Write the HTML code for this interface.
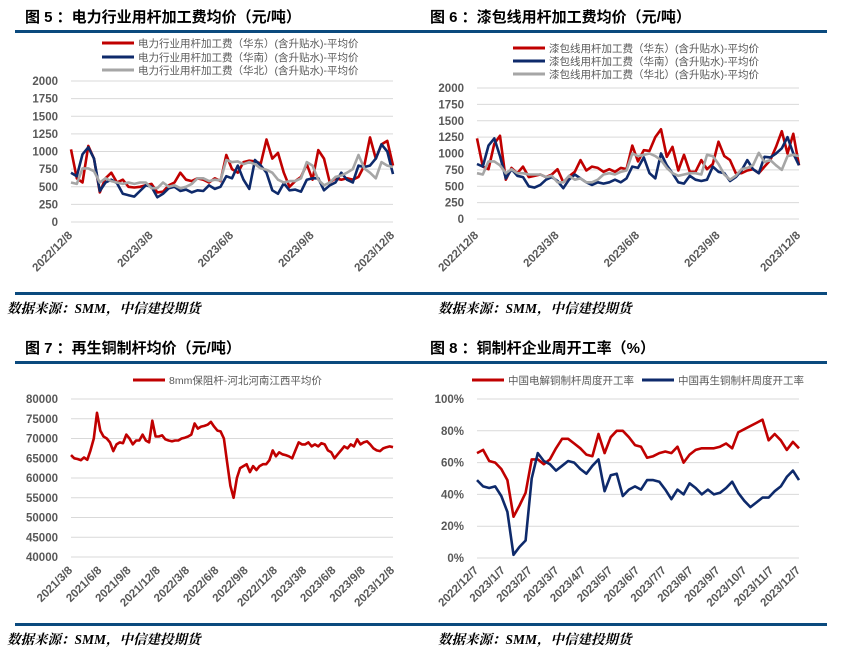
<!DOCTYPE html>
<html><head><meta charset="utf-8"><style>
body{margin:0;background:#fff;width:845px;height:656px;overflow:hidden}
svg{display:block;font-family:"Liberation Sans","Noto Sans CJK SC",sans-serif}
.t{font-size:15px;font-weight:bold;fill:#000}
.ax{font-size:11.5px;fill:#595959;font-weight:bold}
.lg{font-size:10.5px;fill:#595959}
.src{font-size:13.5px;font-weight:bold;font-style:italic;fill:#000;font-family:"Liberation Serif","Noto Serif CJK SC",serif}
</style></head><body>
<svg id="s" width="845" height="656">
<g>
<text class="t" x="25" y="22">图 5 ：电力行业用杆加工费均价（元/吨）</text>
<rect x="15" y="30" width="405" height="3" fill="#0b4a7e"/>
<rect x="15" y="292" width="405" height="3" fill="#0b4a7e"/>
<text class="src" x="7" y="313">数据来源：SMM，中信建投期货</text>
</g>
<g>
<text class="t" x="430" y="22">图 6 ：漆包线用杆加工费均价（元/吨）</text>
<rect x="420" y="30" width="407" height="3" fill="#0b4a7e"/>
<rect x="420" y="292" width="407" height="3" fill="#0b4a7e"/>
<text class="src" x="438" y="313">数据来源：SMM，中信建投期货</text>
</g>
<g>
<text class="t" x="25" y="353">图 7 ：再生铜制杆均价（元/吨）</text>
<rect x="15" y="361" width="405" height="3" fill="#0b4a7e"/>
<rect x="15" y="623" width="405" height="3" fill="#0b4a7e"/>
<text class="src" x="7" y="644">数据来源：SMM，中信建投期货</text>
</g>
<g>
<text class="t" x="430" y="353">图 8 ：铜制杆企业周开工率（%）</text>
<rect x="420" y="361" width="407" height="3" fill="#0b4a7e"/>
<rect x="420" y="623" width="407" height="3" fill="#0b4a7e"/>
<text class="src" x="438" y="644">数据来源：SMM，中信建投期货</text>
</g>
</svg>
<script>
const p1Labels=["2022/12/8","2023/3/8","2023/6/8","2023/9/8","2023/12/8"];
const p1Ticks=[0,250,500,750,1000,1250,1500,1750,2000];
const p1East=[1030,620,560,1080,900,420,620,700,560,600,500,490,500,520,540,420,430,520,560,700,600,580,620,600,560,620,580,950,750,700,850,870,860,830,1170,900,980,700,500,580,640,820,600,1020,900,560,620,600,620,600,640,800,1200,900,1100,1150,800];
const p1South=[700,650,960,1060,900,440,560,600,550,400,380,360,440,520,500,350,400,480,500,440,460,420,450,440,520,470,500,650,620,800,600,470,880,800,700,450,400,550,450,460,430,600,620,620,450,520,560,700,600,560,800,780,800,900,1100,1000,680];
const p1North=[560,540,760,760,720,560,620,580,560,540,560,540,560,560,480,480,560,500,520,480,500,540,620,620,580,600,590,880,850,860,820,850,820,760,740,700,600,560,580,580,620,850,800,600,520,560,640,660,700,750,950,760,700,620,850,800,780];
const p2East=[1230,800,760,1150,1270,600,780,700,800,640,660,680,640,680,760,560,650,720,900,740,800,780,720,760,720,780,760,1120,880,1050,1040,1250,1370,950,1100,740,980,720,720,900,760,840,1180,960,900,700,700,740,760,700,800,900,1100,1340,1000,1300,820];
const p2South=[840,800,1120,1230,960,620,760,660,640,500,480,520,600,640,580,470,600,680,620,560,520,560,540,560,600,560,620,800,780,940,700,620,1000,820,700,560,540,660,600,580,600,800,720,700,580,640,740,900,760,700,950,940,1000,1080,1250,1000,820];
const p2North=[700,680,880,880,820,700,760,700,700,680,680,680,640,660,560,560,660,600,620,560,560,600,680,700,680,720,740,1000,960,980,1000,960,900,780,700,660,680,700,700,680,980,960,840,680,600,660,760,780,820,1010,870,900,820,750,960,980,960];
const p3Labels=["2021/3/8","2021/6/8","2021/9/8","2021/12/8","2022/3/8","2022/6/8","2022/9/8","2022/12/8","2023/3/8","2023/6/8","2023/9/8","2023/12/8"];
const p3Ticks=[40000,45000,50000,55000,60000,65000,70000,75000,80000];
const p3Price=[65800,65000,64800,64500,65200,64600,67000,70000,76500,72000,70500,70000,69000,66800,68500,69000,68800,71000,70000,68500,69500,69500,71000,69500,69000,74500,70500,70500,70800,69800,69500,69300,69500,69500,70000,70200,70500,71000,73800,72500,73000,73200,73500,74200,73000,72000,71800,70000,64000,58000,55000,60000,62500,63000,63500,61500,63000,62000,63000,63500,63500,64500,67000,65500,66500,66000,65800,65500,65000,67000,69000,68500,68500,69000,68000,68500,68000,68800,68500,67000,66500,65000,66000,67000,68000,67500,68500,68000,69800,68500,69000,69300,68500,67500,67000,66800,67500,67800,68000,67800];
const p4Labels=["2022/12/7","2023/1/7","2023/2/7","2023/3/7","2023/4/7","2023/5/7","2023/6/7","2023/7/7","2023/8/7","2023/9/7","2023/10/7","2023/11/7","2023/12/7"];
const p4Ticks=[0,20,40,60,80,100];
const p4Electro=[66,68,61,60,56,49,26,33,41,62,62,59,62,69,75,75,72,69,65,64,78,66,76,80,80,76,71,70,63,64,66,67,66,70,60,65,68,69,69,69,70,72,69,79,81,83,85,87,74,78,74,68,73,69];
const p4Recycled=[49,45,44,45,39,29,2,7,11,50,66,61,59,55,58,61,60,56,53,58,62,42,52,53,39,43,45,43,49,49,48,43,37,43,40,47,44,40,43,40,41,44,48,41,36,32,35,38,38,42,45,51,55,49];

const NS="http://www.w3.org/2000/svg";
const svg=document.getElementById('s');
function mk(tag,attrs,parent){const e=document.createElementNS(NS,tag);for(const k in attrs)e.setAttribute(k,attrs[k]);(parent||svg).appendChild(e);return e;}
const RED="#c00000",NAVY="#0e2a6b",GRAY="#a6a6a6";

function panel(cfg){
  const g=mk('g',{});
  
  
  const x0=cfg.x0,x1=cfg.x1,yTop=cfg.yTop,yBot=cfg.yBot;
  const tmin=cfg.ticks[0],tmax=cfg.ticks[cfg.ticks.length-1];
  const yS=v=>yBot-(v-tmin)/(tmax-tmin)*(yBot-yTop);
  cfg.ticks.forEach(t=>{
    const l=mk('line',{x1:x0,x2:x1,y1:yS(t),y2:yS(t),stroke:"#d9d9d9","stroke-width":1},g);
    
    
    const tx=mk('text',{x:x0-13,y:yS(t)+4,"text-anchor":"end",class:"ax"},g);
    tx.textContent=t+(cfg.pct?"%":"");
    
    
  });
  const nL=cfg.labels.length;
  cfg.labels.forEach((lb,i)=>{
    const lx=x0+i*(x1-x0)/(nL-1)+2;
    const tx=mk('text',{x:lx,y:cfg.ly,"text-anchor":"end",class:"ax",transform:`rotate(-45 ${lx} ${cfg.ly})`},g);
    tx.textContent=lb;
    
    
  });
  cfg.series.forEach(s=>{
    const n=s.data.length;
    const pts=s.data.map((v,i)=>(x0+i*(x1-x0)/(n-1)).toFixed(1)+","+yS(v).toFixed(1)).join(" ");
    const pl=mk('polyline',{points:pts,fill:"none",stroke:s.color,"stroke-width":2.6,"stroke-linejoin":"round"},g);
    
    
  });
  cfg.legend.forEach(L=>{
    const sw=mk('line',{x1:L.x,x2:L.x+32,y1:L.y,y2:L.y,stroke:L.color,"stroke-width":3},g);
    
    
    const tx=mk('text',{x:L.x+36,y:L.y+4,class:"lg"},g);
    tx.textContent=L.text;
    
    
  });
}
panel({name:'chart-5',x0:71,x1:393,yTop:81,yBot:222,ticks:p1Ticks,labels:p1Labels,ly:236,
 series:[{id:'line-east',data:p1East,color:RED},{id:'line-south',data:p1South,color:NAVY},{id:'line-north',data:p1North,color:GRAY}],
 legend:[{x:102,y:43,color:RED,text:"电力行业用杆加工费（华东）(含升贴水)-平均价"},{x:102,y:57,color:NAVY,text:"电力行业用杆加工费（华南）(含升贴水)-平均价"},{x:102,y:70,color:GRAY,text:"电力行业用杆加工费（华北）(含升贴水)-平均价"}]});
panel({name:'chart-6',x0:477,x1:799,yTop:88,yBot:219,ticks:p1Ticks,labels:p1Labels,ly:236,
 series:[{id:'line-east',data:p2East,color:RED},{id:'line-south',data:p2South,color:NAVY},{id:'line-north',data:p2North,color:GRAY}],
 legend:[{x:513,y:48,color:RED,text:"漆包线用杆加工费（华东）(含升贴水)-平均价"},{x:513,y:61,color:NAVY,text:"漆包线用杆加工费（华南）(含升贴水)-平均价"},{x:513,y:74,color:GRAY,text:"漆包线用杆加工费（华北）(含升贴水)-平均价"}]});
panel({name:'chart-7',x0:71,x1:393,yTop:399,yBot:557,ticks:p3Ticks,labels:p3Labels,ly:571,
 series:[{id:'line-price',data:p3Price,color:RED}],
 legend:[{x:133,y:380,color:RED,text:"8mm保阻杆-河北河南江西平均价"}]});
panel({name:'chart-8',x0:477,x1:799,yTop:399,yBot:558,ticks:p4Ticks,pct:true,labels:p4Labels,ly:571,
 series:[{id:'line-electrolytic',data:p4Electro,color:RED},{id:'line-recycled',data:p4Recycled,color:NAVY}],
 legend:[{x:472,y:380,color:RED,text:"中国电解铜制杆周度开工率"},{x:642,y:380,color:NAVY,text:"中国再生铜制杆周度开工率"}]});
</script>
</body></html>
